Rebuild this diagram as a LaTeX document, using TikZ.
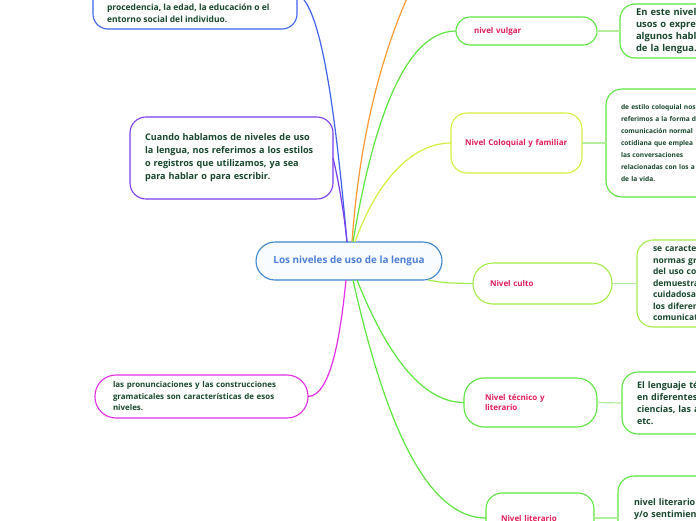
\documentclass[tikz,border=0pt]{standalone}
\usepackage{fontspec}
\setmainfont{Open Sans}
\definecolor{blueC}{HTML}{3F63EE}
\definecolor{purpleC}{HTML}{7B3CEB}
\definecolor{centralB}{HTML}{3C86CC}
\definecolor{centralT}{HTML}{4B7FD6}
\definecolor{centralF}{HTML}{F9FCFF}
\definecolor{magentaC}{HTML}{E22EE6}
\definecolor{orangeC}{HTML}{FF9B30}
\definecolor{greenC}{HTML}{5CE63F}
\definecolor{limeC}{HTML}{D7EE3E}
\definecolor{cultoC}{HTML}{A4EC4A}
\definecolor{linkC}{HTML}{B5EE9A}
\definecolor{textC}{HTML}{17472C}
\definecolor{labelC}{HTML}{E01E5A}
\begin{document}
\begin{tikzpicture}[x=1pt,y=-1pt,
  every node/.style={inner ysep=0pt, outer sep=0pt},
  textbox/.style={draw, line width=1.1pt, fill=white, align=left, text=textC, font=\bfseries},
  labelbox/.style={draw, line width=1.1pt, fill=white, align=left, text=labelC, font=\bfseries\fontsize{8}{10.5}\selectfont},
  conn/.style={line width=1.2pt},
  link/.style={line width=1.2pt, draw=linkC}
]
\clip (0,0) rectangle (696,520);
\fill[white] (0,0) rectangle (696,520);

% top-left (partly outside)
\node[textbox, draw=blueC, rounded corners=15pt, minimum width=204pt, minimum height=70pt, inner xsep=0pt] (tl) at (195,-6) {};
\node[anchor=base west, inner sep=0pt, align=left, text=textC, font=\bfseries\fontsize{8.5}{12}\selectfont] (tlt) at (107,22)
  {procedencia, la edad, la educación o el\\entorno social del individuo.};

% purple
\node[textbox, draw=purpleC, rounded corners=16pt, text width=173pt, inner xsep=15pt, minimum height=82pt,
  font=\bfseries\fontsize{9.1}{13}\selectfont] (p) at (231.5,158)
  {Cuando hablamos de niveles de uso\\la lengua, nos referimos a los estilos\\o registros que utilizamos, ya sea\\para hablar o para escribir.};

% magenta
\node[textbox, draw=magentaC, rounded corners=21pt, text width=177pt, inner xsep=18pt, minimum height=43pt,
  font=\bfseries\fontsize{7.95}{11.5}\selectfont] (m) at (201.5,396.5)
  {las pronunciaciones y las construcciones\\gramaticales son características de esos\\niveles.};

% central
\node[draw=centralB, line width=1.1pt, fill=centralF, rounded corners=19pt, minimum width=186pt, minimum height=38pt,
  text=centralT, font=\bfseries\fontsize{9.9}{11}\selectfont] (c) at (349,261) {Los niveles de uso de la lengua};

% connectors to the left and top
\draw[conn, blueC] (tl.east) .. controls (322,4) and (336,120) .. ([xshift=-2pt]c.north);
\draw[conn, purpleC] (p.east) .. controls (338,178) and (344,212) .. ([xshift=-2pt]c.north);
\coordinate (up) at (418,-25);
\draw[conn, orangeC] ([xshift=3pt]c.north) .. controls (360,130) and (385,40) .. (up);

% right side labels
\node[labelbox, draw=greenC, rounded corners=14pt, text width=105pt, inner xsep=18pt, minimum height=28pt] (v) at (526.5,31) {nivel vulgar};
\node[labelbox, draw=limeC, rounded corners=16pt, text width=103pt, inner xsep=14pt, minimum height=60pt] (q) at (516.5,143) {Nivel Coloquial y familiar};
\node[labelbox, draw=cultoC, rounded corners=20pt, text width=105pt, inner xsep=17pt, minimum height=41pt] (k) at (542.5,283.5) {Nivel culto};
\node[labelbox, draw=greenC, rounded corners=20pt, text width=91pt, inner xsep=21pt, minimum height=49pt] (t) at (530.5,402.5) {Nivel técnico y\\literario};
\node[labelbox, draw=greenC, rounded corners=16pt, text width=78pt, inner xsep=15pt, minimum height=50pt] (l) at (540,518) {Nivel literario};

% description boxes (cut by the right edge)
\node[textbox, draw=greenC, rounded corners=15pt, text width=118pt, inner xsep=16pt, minimum height=54pt,
  font=\bfseries\fontsize{9.4}{12}\selectfont] (vd) at (695,31)
  {En este nivel s\\usos o expres\\algunos habla\\de la lengua.};
\node[textbox, draw=greenC, rounded corners=16pt, text width=120pt, inner xsep=15pt, minimum height=108pt,
  font=\bfseries\fontsize{6.6}{12}\selectfont] (qd) at (681,143)
  {de estilo coloquial nos\\referimos a la forma d\\comunicación normal\\cotidiana que emplea\\las conversaciones\\relacionadas con los a\\de la vida.};
\node[textbox, draw=cultoC, rounded corners=16pt, text width=118pt, inner xsep=16pt, minimum height=87pt,
  font=\bfseries\fontsize{8.5}{11.5}\selectfont] (kd) at (712,283.5)
  {se caracter\\normas gr\\del uso co\\demuestra\\cuidadosa\\los diferen\\comunicat};
\node[textbox, draw=greenC, rounded corners=16pt, text width=120pt, inner xsep=15pt, minimum height=62pt,
  font=\bfseries\fontsize{9}{12}\selectfont] (td) at (697,403)
  {El lenguaje té\\en diferentes\\ciencias, las a\\etc.};
\node[textbox, draw=greenC, rounded corners=16pt, text width=118pt, inner xsep=16pt, inner ysep=23pt, anchor=north west,
  font=\bfseries\fontsize{9}{12}\selectfont] (ld) at (618,476)
  {nivel literario\\y/o sentimien};

% connectors from central
\draw[conn, greenC] ([xshift=4pt]c.north) .. controls (370,140) and (400,31) .. (v.west);
\draw[conn, limeC] ([xshift=6pt]c.north) .. controls (375,185) and (410,143) .. (q.west);
\draw[conn, cultoC] ([xshift=-14pt]c.south east) .. controls (445,283) .. (k.west);
\draw[conn, magentaC] ([xshift=-3pt]c.south) .. controls (340,340) and (330,396) .. (m.east);
\draw[conn, greenC] ([xshift=8pt]c.south) .. controls (385,350) and (420,402.5) .. (t.west);
\draw[conn, greenC] ([xshift=4pt]c.south) .. controls (380,400) and (420,518) .. (l.west);

% links to descriptions
\draw[link] (v.east) -- (vd.west);
\draw[link] (q.east) -- (qd.west);
\draw[link] (k.east) -- (kd.west);
\draw[link] (t.east) -- (td.west);
\draw[link] (l.east) -- (l.east -| ld.west);
\end{tikzpicture}
\end{document}
